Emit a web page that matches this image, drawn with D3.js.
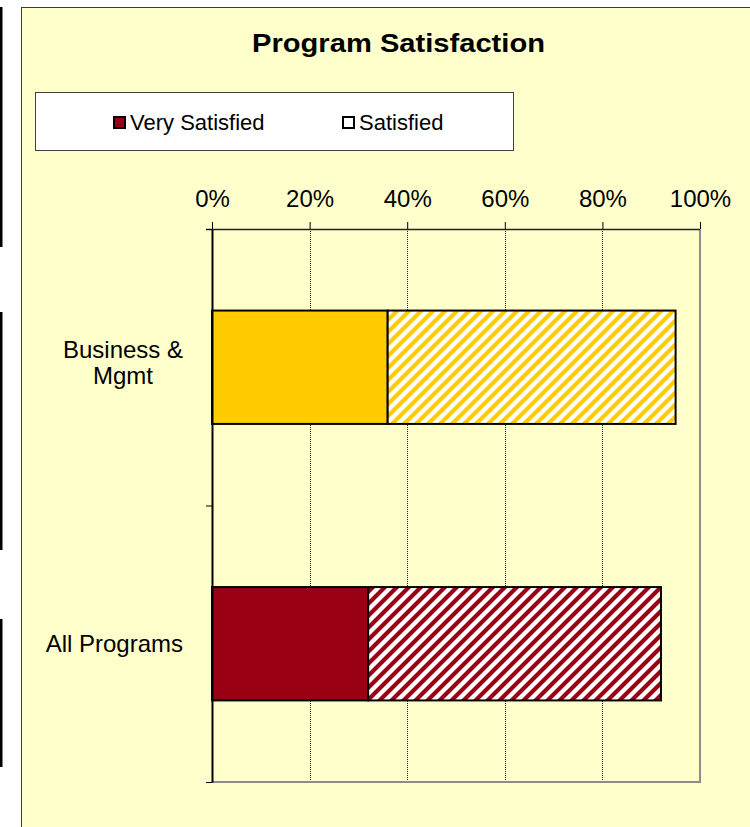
<!DOCTYPE html>
<html>
<head>
<meta charset="utf-8">
<script src="https://cdn.jsdelivr.net/npm/d3@7"></script>
<style>
  html, body { margin: 0; padding: 0; background: #ffffff; }
  svg { display: block; }
  text { font-family: "Liberation Sans", Arial, sans-serif; fill: #000; }
</style>
</head>
<body>
<svg id="chart" width="750" height="827"></svg>
<script>
// ---- data ----
const categories = ["Business & Mgmt", "All Programs"];
const categoryLines = [["Business &", "Mgmt"], ["All Programs"]];
const verySatisfied = [0.36, 0.32];
const satisfied = [0.59, 0.60];
const barColors = ["#FFCC00", "#990014"];
const xTicks = [0, 0.2, 0.4, 0.6, 0.8, 1.0];
const seriesNames = ["Very Satisfied", "Satisfied"];
const titleText = "Program Satisfaction";

const svg = d3.select("#chart");

// left-edge black strips (screenshot artifacts)
[[7, 247], [312, 550], [619, 767]].forEach(([a, b]) => {
  svg.append("rect").attr("x", 0).attr("y", a).attr("width", 2.5).attr("height", b - a).attr("fill", "#000");
});

// chart area
svg.append("rect").attr("x", 21.5).attr("y", 7.5).attr("width", 740).attr("height", 830)
  .attr("fill", "#FFFFCC").attr("stroke", "#3a3a3a").attr("stroke-width", 1);

// patterns
const defs = svg.append("defs");
barColors.forEach((c, i) => {
  const p = defs.append("pattern").attr("id", "hatch" + i)
    .attr("patternUnits", "userSpaceOnUse").attr("width", 12).attr("height", 12);
  p.append("rect").attr("width", 12).attr("height", 12).attr("fill", "#fff");
  p.append("path").attr("d", "M-3,3 L3,-3 M0,12 L12,0 M9,15 L15,9")
    .attr("stroke", c).attr("stroke-width", 4.2);
});

// title
svg.append("text").attr("x", 398.5).attr("y", 52).attr("text-anchor", "middle")
  .style("font-size", "26px").style("font-weight", "bold")
  .attr("textLength", 293).attr("lengthAdjust", "spacingAndGlyphs").text(titleText);

// legend
const lg = svg.append("g");
lg.append("rect").attr("x", 35.5).attr("y", 92.5).attr("width", 478).attr("height", 58)
  .attr("fill", "#fff").attr("stroke", "#404040").attr("stroke-width", 1);
const legendItems = [
  { name: seriesNames[0], x: 113, fill: barColors[1] },
  { name: seriesNames[1], x: 342, fill: "#fff" }
];
legendItems.forEach(d => {
  lg.append("rect").attr("x", d.x + 1).attr("y", 117).attr("width", 11).attr("height", 11)
    .attr("fill", d.fill).attr("stroke", "#000").attr("stroke-width", 2);
  lg.append("text").attr("x", d.x + 17).attr("y", 130).style("font-size", "22px").text(d.name);
});

// scales
const plotTop = 229, plotBottom = 782, plotLeft = 212, plotRight = 700;
const x = d3.scaleLinear().domain([0, 1]).range([plotLeft, plotRight]);
const y = d3.scaleBand().domain(categories).range([plotTop, plotBottom])
  .paddingInner(0.59).paddingOuter(0.295);
const yIdx = d3.scaleLinear().domain([0, categories.length]).range([plotTop, plotBottom]);

// gridlines
svg.append("g").selectAll("line").data(xTicks.slice(1, -1)).join("line")
  .attr("x1", d => Math.round(x(d)) + 0.5).attr("x2", d => Math.round(x(d)) + 0.5)
  .attr("y1", plotTop).attr("y2", plotBottom)
  .attr("stroke", "#222").attr("stroke-width", 1).attr("stroke-dasharray", "1,1");

// plot border right/bottom
svg.append("path")
  .attr("d", `M${plotLeft},${plotBottom} H${plotRight} V${plotTop}`)
  .attr("fill", "none").attr("stroke", "#8c8c8c").attr("stroke-width", 2);

// bars
categories.forEach((c, i) => {
  const y0 = y(c), h = y.bandwidth();
  svg.append("rect").attr("x", x(0)).attr("y", y0)
    .attr("width", x(verySatisfied[i]) - x(0)).attr("height", h)
    .attr("fill", barColors[i]).attr("stroke", "#000").attr("stroke-width", 2);
  svg.append("rect").attr("x", x(verySatisfied[i])).attr("y", y0)
    .attr("width", x(verySatisfied[i] + satisfied[i]) - x(verySatisfied[i])).attr("height", h)
    .attr("fill", `url(#hatch${i})`).attr("stroke", "#000").attr("stroke-width", 2);
});

// x axis (top)
const xAxis = d3.axisTop(x).tickValues(xTicks).tickFormat(d3.format(".0%"))
  .tickSizeInner(7).tickSizeOuter(0).tickPadding(15);
const gx = svg.append("g").attr("transform", `translate(0,${plotTop})`).call(xAxis);
gx.select(".domain").remove();
gx.selectAll(".tick line").attr("stroke", "#000");
gx.selectAll(".tick text").style("font-size", "24px").attr("font-family", null);
gx.append("line").attr("x1", plotLeft - 6).attr("x2", plotRight).attr("y1", 0.5).attr("y2", 0.5)
  .attr("stroke", "#222").attr("stroke-width", 1.5);

// y axis (left)
const yAxis = d3.axisLeft(yIdx).tickValues(d3.range(categories.length + 1)).tickFormat("")
  .tickSizeInner(6).tickSizeOuter(0);
const gy = svg.append("g").attr("transform", `translate(${plotLeft},0)`).call(yAxis);
gy.select(".domain").attr("stroke", "#000").attr("stroke-width", 2);
gy.selectAll(".tick line").attr("stroke", "#000");

// category labels
const labelRight = 183;
categories.forEach((c, i) => {
  const lines = categoryLines[i];
  const cy = y(c) + y.bandwidth() / 2;
  const lh = 26;
  const t = svg.append("text").style("font-size", "24px").attr("text-anchor", "middle");
  lines.forEach((ln, j) => {
    t.append("tspan").attr("y", cy + 8 - (lines.length - 1) * lh / 2 - 4 * (lines.length - 1) + j * lh).text(ln);
  });
  let maxW = 0;
  t.selectAll("tspan").each(function () { maxW = Math.max(maxW, this.getComputedTextLength()); });
  t.selectAll("tspan").attr("x", labelRight - maxW / 2);
});
</script>
</body>
</html>
